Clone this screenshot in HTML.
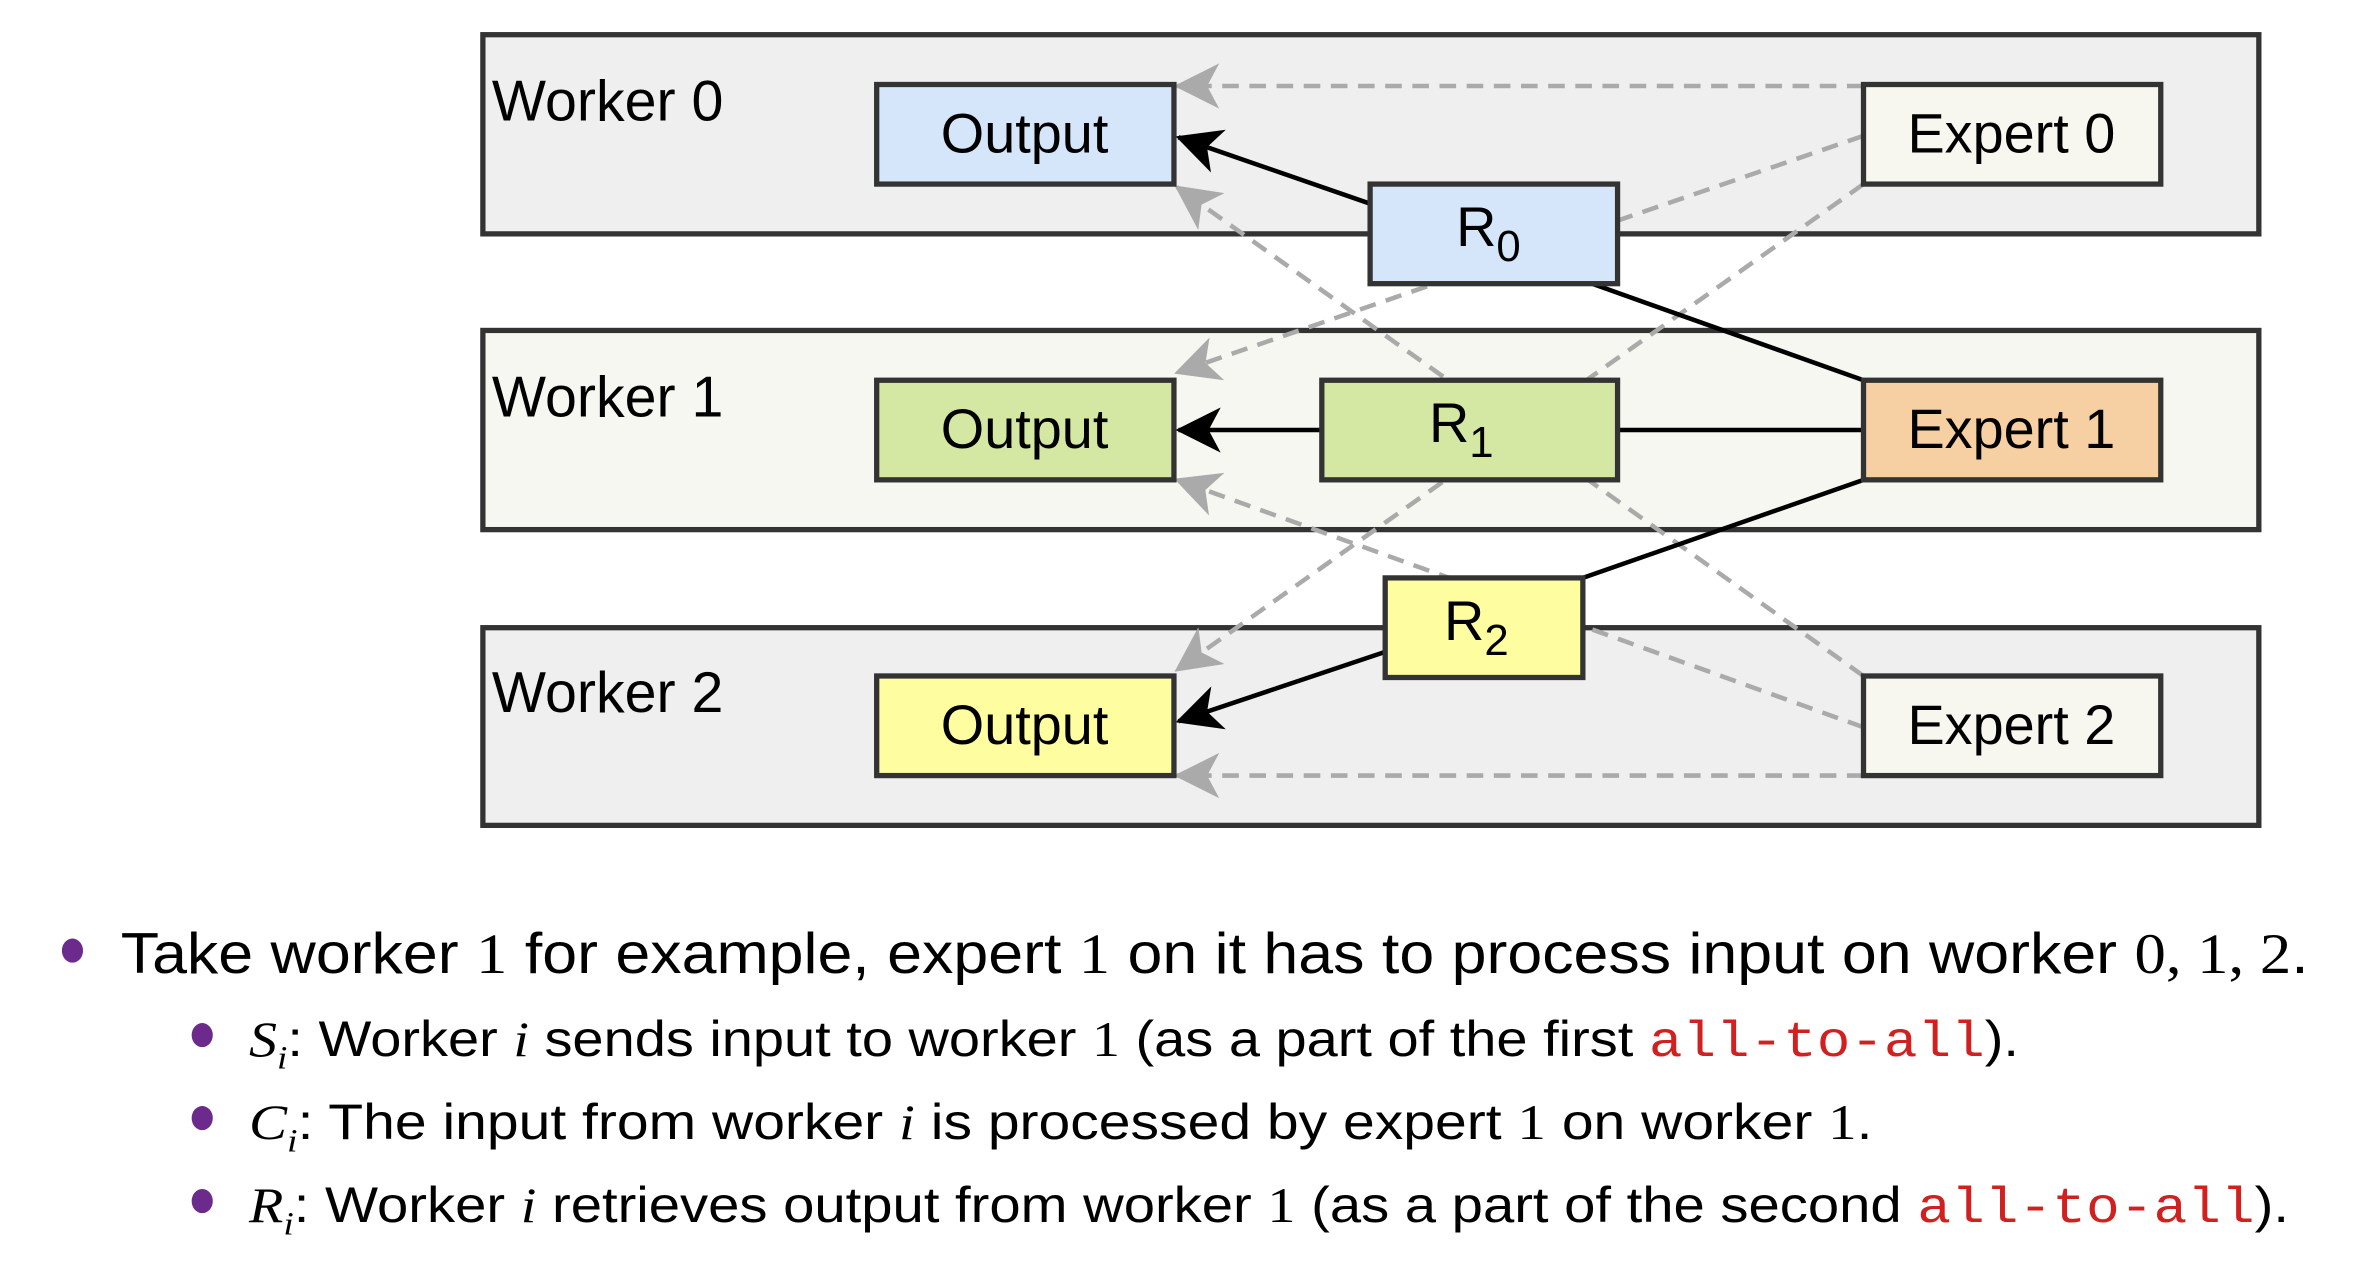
<!DOCTYPE html>
<html><head><meta charset="utf-8"><style>
html,body{margin:0;padding:0;background:#fff;}
svg{display:block;}
text{font-family:"Liberation Sans",sans-serif;}
</style></head><body>
<svg width="2366" height="1264" viewBox="0 0 1568 837.7" xmlns="http://www.w3.org/2000/svg">
<defs>
<marker id="ag" markerWidth="30" markerHeight="30" refX="28" refY="15" orient="auto" markerUnits="userSpaceOnUse"><path d="M0,0 L30,15 L0,30 L8,15 z" fill="#aaa"/></marker>
<marker id="ak" markerWidth="30" markerHeight="30" refX="28" refY="15" orient="auto" markerUnits="userSpaceOnUse"><path d="M0,0 L30,15 L0,30 L8,15 z" fill="#000"/></marker>
</defs>
<g stroke="#333" stroke-width="3.5">
<rect x="320" y="23" width="1177" height="132" fill="#efefef"/>
<rect x="320" y="219" width="1177" height="132" fill="#f7f7f1"/>
<rect x="320" y="416" width="1177" height="131" fill="#efefef"/>
</g>
<g font-size="38" fill="#000">
<text x="326" y="80">Worker 0</text>
<text x="326" y="276">Worker 1</text>
<text x="326" y="472">Worker 2</text>
</g>
<g stroke="#aaa" stroke-width="3" stroke-dasharray="11,7" fill="none" marker-end="url(#ag)">
<line x1="1235" y1="57" x2="780" y2="57"/>
<line x1="1235" y1="90" x2="780" y2="247"/>
<line x1="1235" y1="122" x2="780" y2="444"/>
<line x1="1235" y1="448" x2="780" y2="124"/>
<line x1="1235" y1="482" x2="780" y2="318"/>
<line x1="1235" y1="514" x2="780" y2="514"/>
</g>
<g stroke="#000" stroke-width="3" fill="none">
<line x1="1055" y1="188" x2="1235" y2="252"/>
<line x1="1072" y1="285" x2="1235" y2="285"/>
<line x1="1235" y1="318" x2="1049" y2="383"/>
<line x1="908" y1="135" x2="781" y2="91" marker-end="url(#ak)"/>
<line x1="876" y1="285" x2="781" y2="285" marker-end="url(#ak)"/>
<line x1="918" y1="432" x2="781" y2="478" marker-end="url(#ak)"/>
</g>
<g stroke="#333" stroke-width="3.5">
<rect x="581" y="56" width="197" height="66" fill="#d6e6fa"/>
<rect x="581" y="252" width="197" height="66" fill="#d4e8a4"/>
<rect x="581" y="448" width="197" height="66" fill="#fefea0"/>
<rect x="1235" y="56" width="197" height="66" fill="#f7f7ef"/>
<rect x="1235" y="252" width="197" height="66" fill="#f6cfa2"/>
<rect x="1235" y="448" width="197" height="66" fill="#f7f7ef"/>
<rect x="908" y="122" width="164" height="66" fill="#d6e6fa"/>
<rect x="876" y="252" width="196" height="66" fill="#d4e8a4"/>
<rect x="918" y="383" width="131" height="66" fill="#fefea0"/>
</g>
<g font-size="37" fill="#000" text-anchor="middle">
<text x="679" y="101">Output</text>
<text x="679" y="297">Output</text>
<text x="679" y="493">Output</text>
<text x="1333" y="101">Expert 0</text>
<text x="1333" y="297">Expert 1</text>
<text x="1333" y="493">Expert 2</text>
</g>
<g font-size="37" fill="#000">
<text x="965" y="163">R<tspan font-size="29" dy="10">0</tspan></text>
<text x="947" y="293">R<tspan font-size="29" dy="10">1</tspan></text>
<text x="957" y="424">R<tspan font-size="29" dy="10">2</tspan></text>
</g>
<g fill="#6b2a8c">
<ellipse cx="48" cy="630" rx="7" ry="8"/>
<ellipse cx="134" cy="686" rx="7" ry="8"/>
<ellipse cx="134" cy="741" rx="7" ry="8"/>
<ellipse cx="134" cy="796" rx="7" ry="8"/>
</g>
<g fill="#000">
<text x="80" y="645" font-size="38" textLength="1450" lengthAdjust="spacingAndGlyphs">Take worker <tspan font-family="Liberation Serif">1</tspan> for example, expert <tspan font-family="Liberation Serif">1</tspan> on it has to process input on worker <tspan font-family="Liberation Serif">0, 1, 2</tspan>.</text>
<text x="165" y="700" font-size="33" textLength="1173" lengthAdjust="spacingAndGlyphs"><tspan font-family="Liberation Serif" font-style="italic">S<tspan font-size="22" dy="8">i</tspan></tspan><tspan dy="-8">: Worker </tspan><tspan font-family="Liberation Serif" font-style="italic">i</tspan> sends input to worker <tspan font-family="Liberation Serif">1</tspan> (as a part of the first <tspan font-family="Liberation Mono" fill="#d02020">all-to-all</tspan>).</text>
<text x="165" y="755" font-size="33" textLength="1076" lengthAdjust="spacingAndGlyphs"><tspan font-family="Liberation Serif" font-style="italic">C<tspan font-size="22" dy="8">i</tspan></tspan><tspan dy="-8">: The input from worker </tspan><tspan font-family="Liberation Serif" font-style="italic">i</tspan> is processed by expert <tspan font-family="Liberation Serif">1</tspan> on worker <tspan font-family="Liberation Serif">1</tspan>.</text>
<text x="165" y="810" font-size="33" textLength="1352" lengthAdjust="spacingAndGlyphs"><tspan font-family="Liberation Serif" font-style="italic">R<tspan font-size="22" dy="8">i</tspan></tspan><tspan dy="-8">: Worker </tspan><tspan font-family="Liberation Serif" font-style="italic">i</tspan> retrieves output from worker <tspan font-family="Liberation Serif">1</tspan> (as a part of the second <tspan font-family="Liberation Mono" fill="#d02020">all-to-all</tspan>).</text>
</g>
</svg>
</body></html>
